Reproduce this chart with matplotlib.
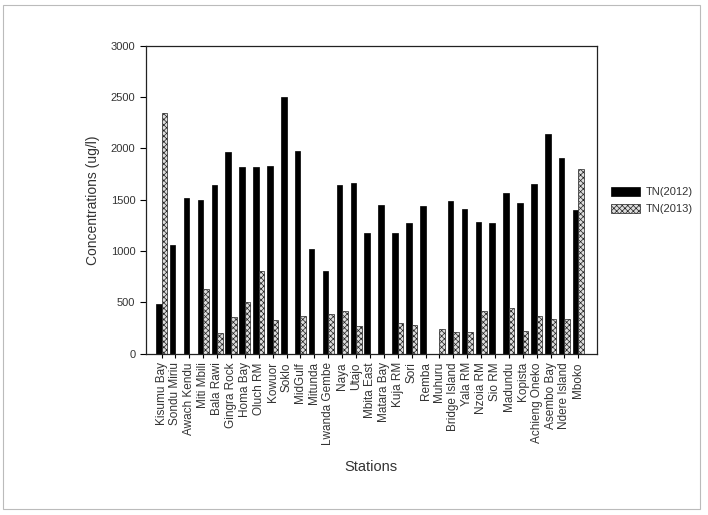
import numpy as np
import matplotlib.pyplot as plt
from matplotlib.patches import Rectangle

plt.rcParams['font.family'] = ['Liberation Sans', 'DejaVu Sans']
plt.rcParams['hatch.linewidth'] = 0.5

# 観測地点
stations = ["Kisumu Bay", "Sondu Miriu", "Awach Kendu", "Miti Mbili", "Bala Rawi",
            "Gingra Rock", "Homa Bay", "Oluch RM", "Kowuor", "Soklo", "MidGulf",
            "Mitunda", "Lwanda Gembe", "Naya", "Utajo", "Mbita East", "Matara Bay",
            "Kuja RM", "Sori", "Remba", "Muhuru", "Bridge Island", "Yala RM",
            "Nzoia RM", "Sio RM", "Madundu", "Kopista", "Achieng Oneko",
            "Asembo Bay", "Ndere Island", "Mboko"]

# TN 濃度 (ug/l)
tn_2012 = [487, 1062, 1516, 1495, 1646, 1964, 1818, 1818, 1831, 2497, 1980,
           1023, 802, 1640, 1662, 1175, 1451, 1175, 1279, 1441, 0, 1490, 1412,
           1286, 1279, 1565, 1467, 1652, 2140, 1906, 1402]
tn_2013 = [2350, 0, 0, 630, 201, 357, 500, 802, 325, 0, 364,
           0, 386, 420, 266, 0, 0, 300, 276, 0, 243, 208, 208,
           420, 0, 445, 218, 364, 338, 338, 1802]

txt = "#333333"

fig = plt.figure(figsize=(7.08, 5.15), dpi=100)
ax = fig.add_axes([0.206, 0.313, 0.637, 0.598])

x = np.arange(len(stations))
w = 0.4
ax.bar(x - w / 2, tn_2012, width=w, color="black", edgecolor="black",
       linewidth=0.5, label="TN(2012)")
ax.bar(x + w / 2, tn_2013, width=w, color="#dddddd", edgecolor="#222222",
       linewidth=0.5, hatch="xxxxxx", label="TN(2013)")

ax.set_xlim(-1.13, 31.33)
ax.set_ylim(0, 3000)
ax.set_yticks(np.arange(0, 3001, 500))
ax.set_xticks(x)
ax.set_xticklabels(stations, rotation=90, fontsize=8.5, color=txt)
ax.tick_params(axis="y", labelsize=8, labelcolor=txt, direction="out",
               length=4, width=0.8)
ax.tick_params(axis="x", direction="out", length=3, width=0.8, pad=3)
for s in ax.spines.values():
    s.set_linewidth(0.9)
    s.set_color("#222222")

ax.set_ylabel("Concentrations (ug/l)", fontsize=10, color=txt, labelpad=8)
ax.set_xlabel("Stations", fontsize=10.5, color=txt, labelpad=11)

leg = ax.legend(loc="upper left", bbox_to_anchor=(1.01, 0.575), frameon=False,
                fontsize=8, handlelength=2.6, handleheight=0.9,
                labelspacing=0.6, handletextpad=0.5)
for t in leg.get_texts():
    t.set_color(txt)

# 画像の枠
fig.patches.append(Rectangle((0.004, 0.012), 0.985, 0.978, transform=fig.transFigure,
                             fill=False, edgecolor="#bbbbbb", linewidth=0.8))

plt.savefig("out.png", dpi=100)
